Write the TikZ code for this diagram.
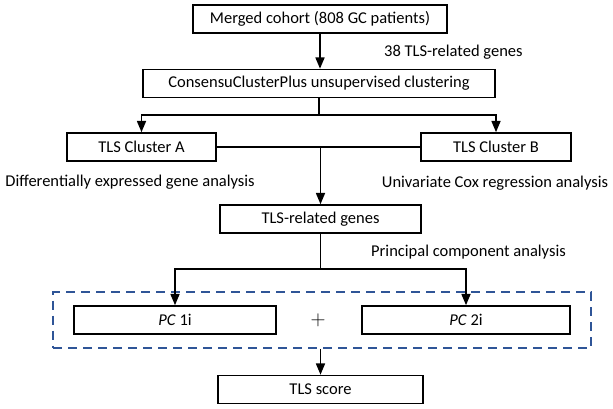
\documentclass[tikz,border=0pt]{standalone}
\usepackage{fontspec}
\setmainfont{Carlito}
\usepackage{tikz}
\usetikzlibrary{positioning}
\usetikzlibrary{arrows,shapes}
\usetikzlibrary{fit}
\usetikzlibrary{calc}
\definecolor{dashblue}{RGB}{47,85,151}
\tikzstyle{stepbox}=[rectangle,draw=black,line width=1.8pt,fill=white,minimum height=28pt,inner sep=0pt]
\tikzstyle{note}=[inner sep=0pt]
\tikzstyle{link}=[line width=1.6pt]
\tikzstyle{arrow}=[line width=1.6pt,-triangle 45]

\begin{document}
\begin{tikzpicture}[x=1pt,y=-1pt,font=\fontsize{16.5}{18}\selectfont]

  \useasboundingbox (0,0) rectangle (613,409);

  \foreach \x/\y/\w/\name/\label in {320/19/254/cohort/{Merged cohort (808 GC patients)},
                                      319/83.5/352/consensus/{ConsensuClusterPlus unsupervised clustering},
                                      141.5/147/149/clusterA/{TLS Cluster A},
                                      496/147/150/clusterB/{TLS Cluster B},
                                      320.5/219/201/genes/{TLS-related genes},
                                      175/320/202/pcA/{\textit{PC} 1i},
                                      466/320/208/pcB/{\textit{PC} 2i},
                                      320.5/389.5/205/score/{TLS score}}
          \node[stepbox,minimum width=\w pt] (\name) at (\x,\y) {\label};

  % labels beside the arrows
  \node[note,anchor=west] (genesIn) at (384,52) {38 TLS-related genes};
  \node[note] (degLabel) at (130,182) {Differentially expressed gene analysis};
  \node[note] (coxLabel) at (495,183) {Univariate Cox regression analysis};
  \node[note,anchor=west] (pcaLabel) at (371,252) {Principal component analysis};

  \node[draw=dashblue,line width=2pt,dash pattern=on 9pt off 6pt,inner xsep=20pt,inner ysep=13pt,fit=(pcA)(pcB)] (pcGroup) {};
  \node[note] (plus) at (318,320) {\fontsize{22}{22}\selectfont $+$};

  \coordinate (split) at (319,115);
  \coordinate (fork) at (320.5,269);

  \draw[arrow] (cohort.south) -- (cohort.south |- consensus.north);
  \draw[link] (consensus.south -| split) -- (split);
  \draw[arrow] (split) -| (clusterA.north);
  \draw[arrow] (split) -| (clusterB.north);
  \draw[link] (clusterA.east) -- (clusterB.west);
  \draw[arrow] (genes.north |- clusterA.east) -- (genes.north);
  \draw[link] (genes.south) -- (fork);
  \draw[arrow] (fork) -| (pcA.north);
  \draw[arrow] (fork) -| (pcB.north);
  \draw[arrow] (pcGroup.south -| score.north) -- (score.north);

\end{tikzpicture}
\end{document}
